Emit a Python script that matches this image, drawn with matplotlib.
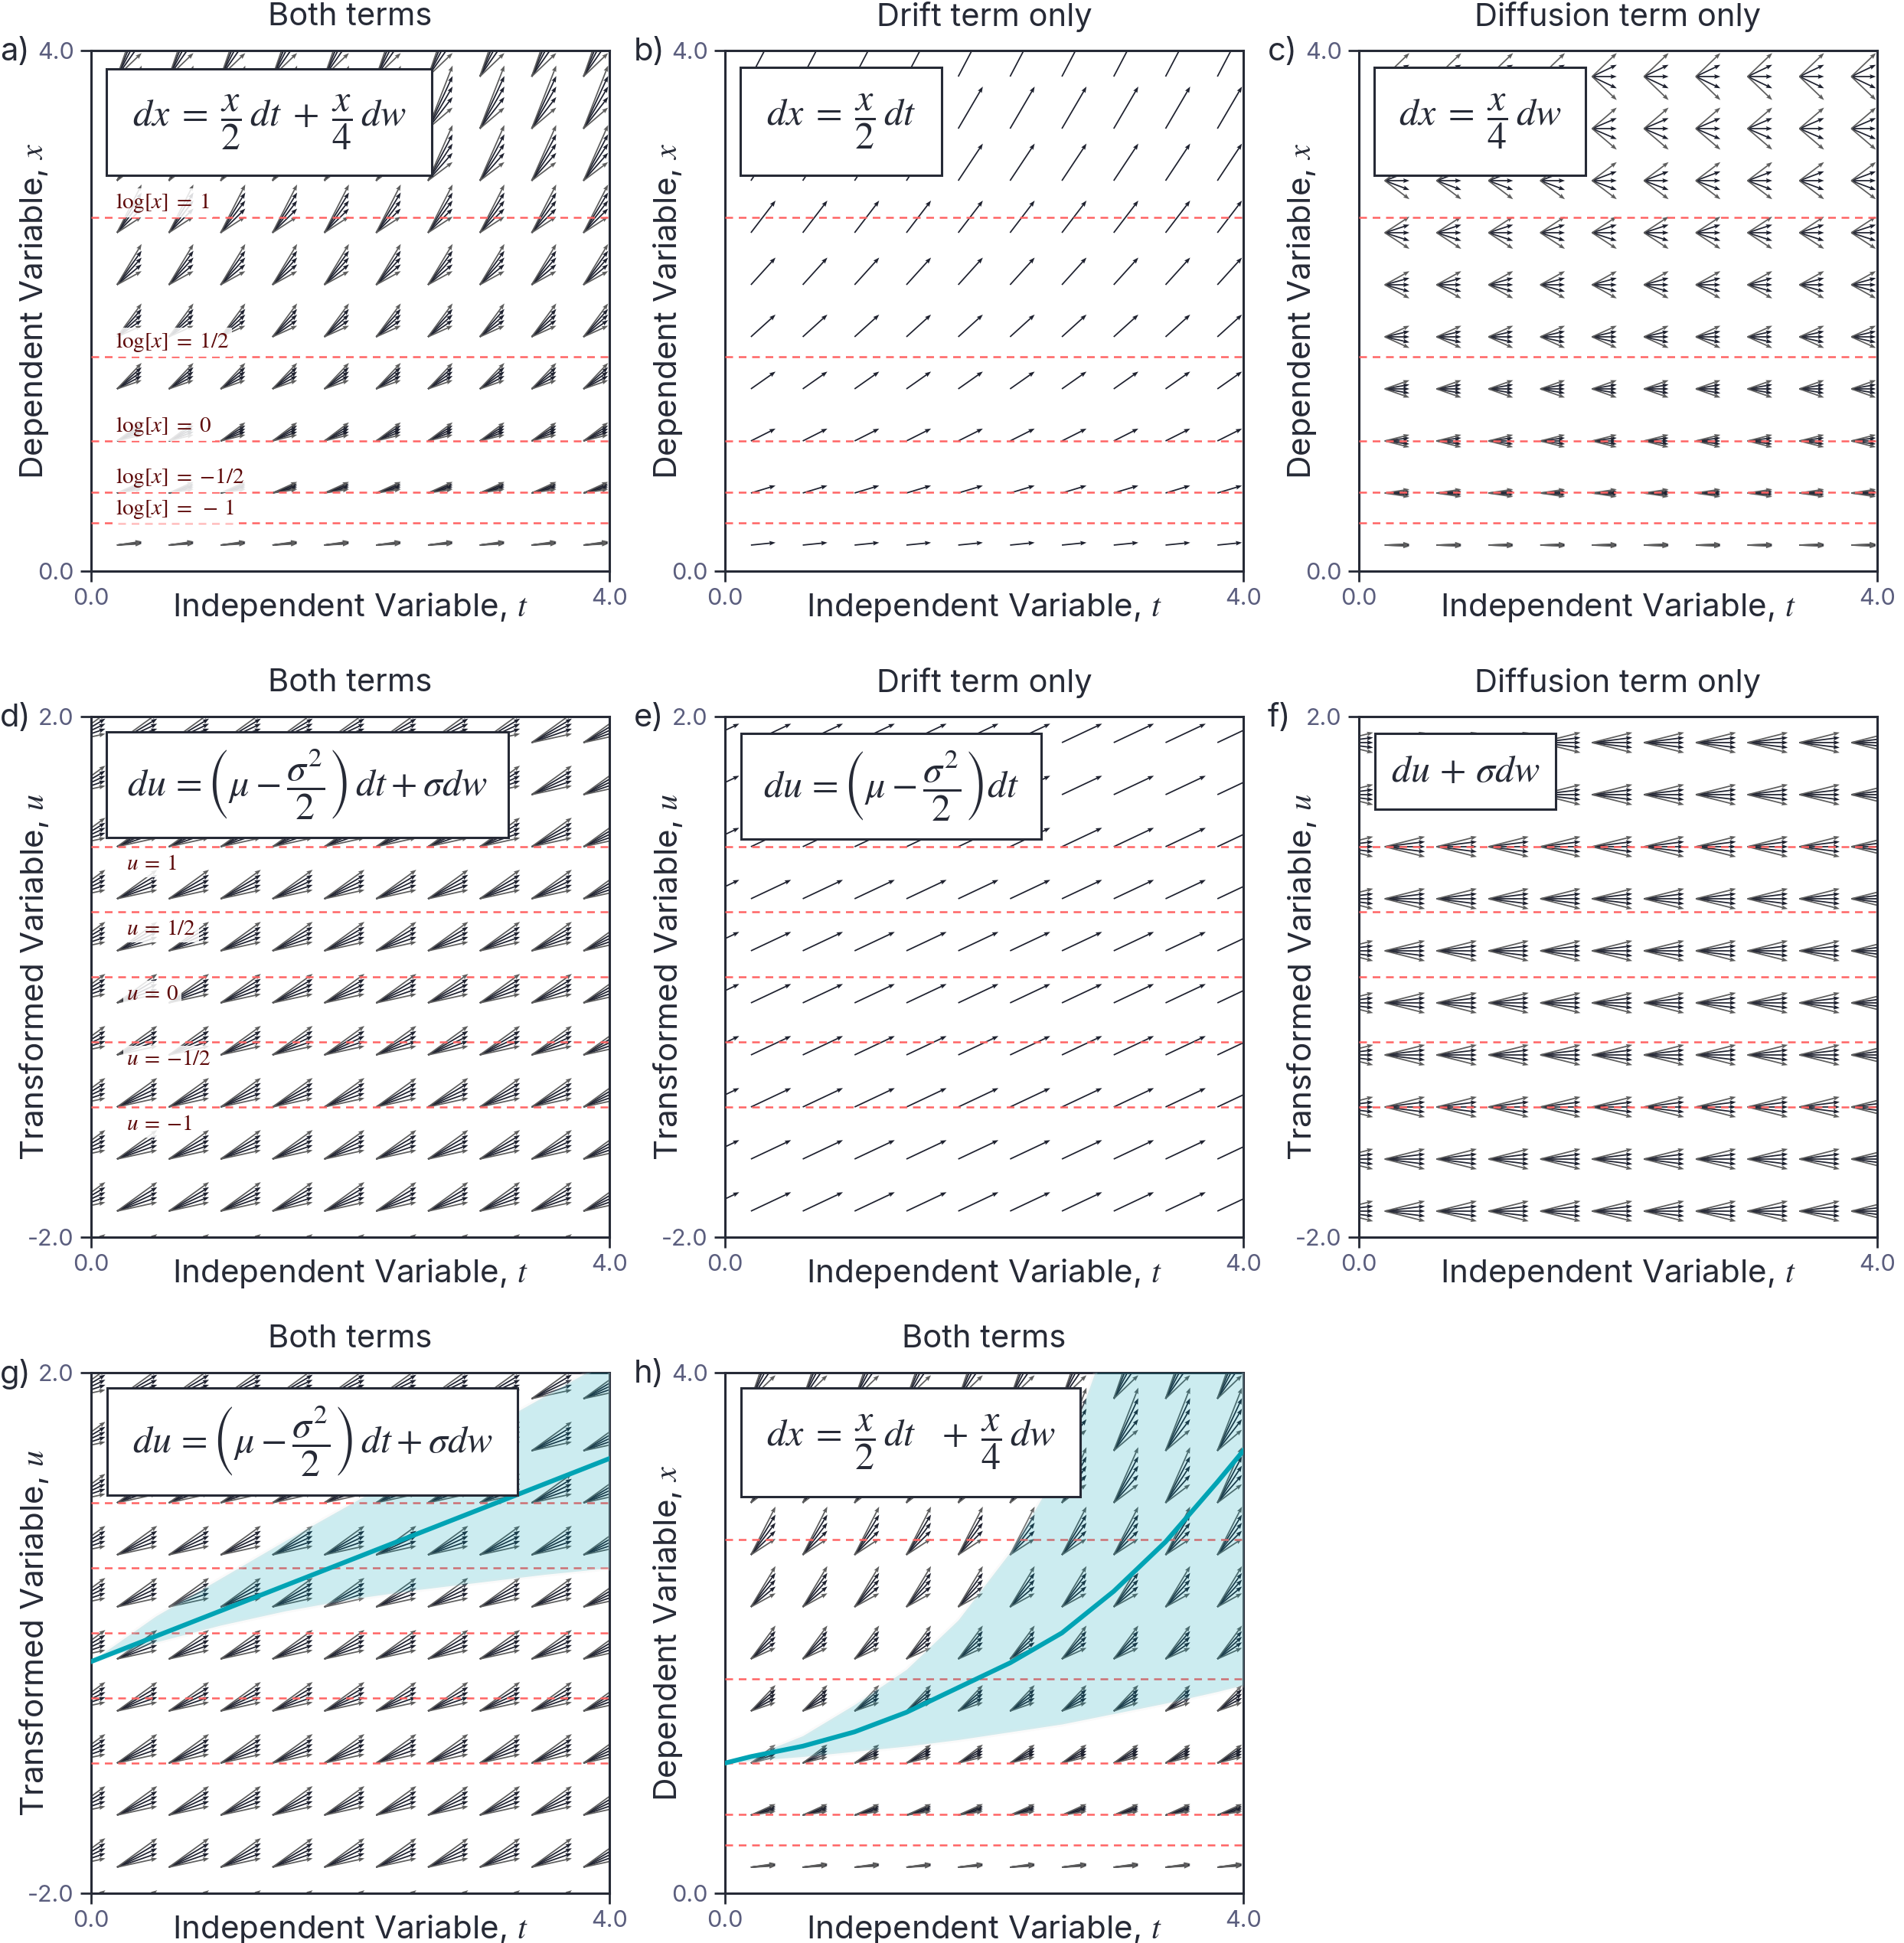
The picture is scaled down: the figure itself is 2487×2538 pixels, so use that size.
import numpy as np
import matplotlib
matplotlib.use('Agg')
from matplotlib import pyplot as plt
from matplotlib.patches import Rectangle

plt.rcParams['font.family'] = ['Inter', 'DejaVu Sans']
plt.rcParams['mathtext.fontset'] = 'stix'

## arrow tails
t_grid = [-0.2, 0.2, 0.6, 1.0, 1.4, 1.8, 2.2, 2.6, 3.0, 3.4, 3.8]
x_grid = [0.2, 0.6, 1.0, 1.4, 1.8, 2.2, 2.6, 3.0, 3.4, 3.8]
u_grid = [-2.2, -1.8, -1.4, -1.0, -0.6, -0.2, 0.2, 0.6, 1.0, 1.4, 1.8]
w_inner = [-0.5, 0.0, 0.5]
w_outer = [-1.0, 1.0]

## dx = mu x dt + sigma x dw
mu = 0.5
sigma = 0.25

x_levels = [np.e, np.exp(0.5), 1.0, np.exp(-0.5), np.exp(-1.0)]
x_level_labels = [r'$\log[x]\;=\;1$', r'$\log[x]\;=\;1/2$', r'$\log[x]\;=\;0$',
                  r'$\log[x]\;=\;{-}1/2$', r'$\log[x]\;=\;-\,1$']
u_levels = [1.0, 0.5, 0.0, -0.5, -1.0]
u_level_labels = [r'$u\:=\:1$', r'$u\:=\:1/2$', r'$u\:=\:0$',
                  r'$u\:=\:{-}1/2$', r'$u\:=\:{-}1$']

## panel g, transformed variable
g_t = [0.0, 2.0, 4.0]
g_mean = [-0.22, 0.56, 1.34]
g_band_t = [0.0, 0.5, 1.0, 1.5, 2.0, 2.5, 3.0, 3.5, 4.0]
g_lower = [-0.22, -0.07, 0.06, 0.17, 0.26, 0.33, 0.39, 0.45, 0.50]
g_upper = [-0.22, 0.13, 0.42, 0.71, 0.99, 1.27, 1.54, 1.82, 2.10]

## panel h, dependent variable
h_t = [0.0, 0.2, 0.6, 1.0, 1.4, 1.8, 2.2, 2.6, 3.0, 3.4, 3.8, 4.0]
h_mean = [1.0, 1.05, 1.13, 1.24, 1.39, 1.58, 1.77, 2.0, 2.32, 2.70, 3.16, 3.40]
h_lower = [1.0, 1.02, 1.05, 1.09, 1.13, 1.18, 1.24, 1.30, 1.38, 1.46, 1.55, 1.60]
h_upper = [1.0, 1.05, 1.21, 1.45, 1.72, 2.10, 2.62, 3.30, 4.40, 5.40, 6.60, 7.30]

titles = ['Both terms', 'Drift term only', 'Diffusion term only',
          'Both terms', 'Drift term only', 'Diffusion term only',
          'Both terms', 'Both terms']
letters = ['a)', 'b)', 'c)', 'd)', 'e)', 'f)', 'g)', 'h)']

eq_both_x = r'$dx\;=\;\dfrac{x}{2}\,dt\;+\;\dfrac{x}{4}\,dw$'
eq_both_x2 = r'$dx\;=\;\dfrac{x}{2}\,dt\;\;\;+\;\dfrac{x}{4}\,dw$'
eq_drift_x = r'$dx\;=\;\dfrac{x}{2}\,dt$'
eq_diff_x = r'$dx\;=\;\dfrac{x}{4}\,dw$'
eq_both_u = r'$du\, = \left(\mu - \dfrac{\sigma^2}{2}\right)\,dt + \sigma dw$'
eq_drift_u = r'$du\, = \left(\mu - \dfrac{\sigma^2}{2}\right)dt$'
eq_diff_u = r'$du\, + \,\sigma dw$'

W, H = 2487, 2538
DPI = 200
fig = plt.figure(figsize=(W / DPI, H / DPI), dpi=DPI)

dark = '#262a36'
arrow_dark = '#1f2230'
arrow_gray = '#5e5e5e'
red = '#ff6464'
teal = '#00a3b4'
tickc = '#5b5e7e'

col_left = [119, 947, 1775]
row_top = [66, 936, 1793]
aw, ah = 677, 680

# (space, drift on, diffusion on, equation, box [t0, t1, y0, y1])
panels = [
    ('x', True, True, eq_both_x, [0.12, 2.63, 3.04, 3.86]),
    ('x', True, False, eq_drift_x, [0.12, 1.67, 3.04, 3.87]),
    ('x', False, True, eq_diff_x, [0.12, 1.75, 3.04, 3.87]),
    ('u', True, True, eq_both_u, [0.12, 3.22, 1.07, 1.88]),
    ('u', True, False, eq_drift_u, [0.125, 2.44, 1.06, 1.87]),
    ('u', False, True, eq_diff_u, [0.125, 1.52, 1.29, 1.87]),
    ('u', True, True, eq_both_u, [0.125, 3.29, 1.06, 1.88]),
    ('x', True, True, eq_both_x2, [0.125, 2.74, 3.05, 3.88]),
]


def draw_arrows(ax, space, drift, diff, ws, color):
    if space == 'x':
        T, Y = np.meshgrid(t_grid, x_grid)
        step = 0.19
    else:
        T, Y = np.meshgrid(t_grid, u_grid)
        step = 0.31
    for w in ws:
        if space == 'x':
            slope = mu * Y * drift + sigma * Y * w * diff
        else:
            slope = (mu - sigma**2 / 2) * drift + sigma * w * diff + 0 * Y
        U = step * np.ones_like(T)
        V = step * slope
        ax.quiver(T, Y, U, V, angles='xy', scale_units='xy', scale=1,
                  color=color, width=0.0026, headwidth=3.4, headlength=4.6,
                  headaxislength=4.1, zorder=2)


for k in range(8):
    r, c = divmod(k, 3)
    left = col_left[c] / W
    bottom = 1 - (row_top[r] + ah) / H
    ax = fig.add_axes([left, bottom, aw / W, ah / H])
    space, drift, diff, eq, box = panels[k]

    ax.set_xlim(0, 4)
    ax.set_xticks([0, 4])
    ax.set_xticklabels(['0.0', '4.0'])
    if space == 'x':
        ax.set_ylim(0, 4)
        ax.set_yticks([0, 4])
        ax.set_yticklabels(['0.0', '4.0'])
        ax.set_ylabel('Dependent Variable, $x$', fontsize=15.2, color=dark)
        levels = x_levels
    else:
        ax.set_ylim(-2, 2)
        ax.set_yticks([-2, 2])
        ax.set_yticklabels(['-2.0', '2.0'])
        ax.set_ylabel('Transformed Variable, $u$', fontsize=15.2, color=dark)
        levels = u_levels
    ax.set_xlabel('Independent Variable, $t$', fontsize=15.2, color=dark)
    ax.xaxis.set_label_coords(0.5, -0.07)
    ax.xaxis.label.set_va('center')
    ax.yaxis.set_label_coords(-0.11, 0.5)
    ax.yaxis.label.set_va('center')

    ax.tick_params(length=5, width=1, color=dark, labelcolor=tickc,
                   labelsize=11, pad=3)
    for sp in ax.spines.values():
        sp.set_linewidth(1.1)
        sp.set_color(dark)

    ax.text(0.5, 1 + 44 / ah, titles[k], transform=ax.transAxes,
            ha='center', va='center', fontsize=15, color=dark)
    ax.text(-119 / aw, 1 - 2 / ah, letters[k], transform=ax.transAxes,
            ha='left', va='center', fontsize=15, color=dark)

    # arrows
    if diff:
        draw_arrows(ax, space, drift, diff, w_inner, arrow_dark)
        draw_arrows(ax, space, drift, diff, w_outer, arrow_gray)
    else:
        draw_arrows(ax, space, drift, diff, [0.0], arrow_dark)

    for lv in levels:
        ax.axhline(lv, color=red, lw=0.9, ls=(0, (4, 3)), zorder=3)

    if k == 0:
        for lv, lab in zip(x_levels, x_level_labels):
            ax.text(0.19, lv + 0.11, lab, color='#5e0b0b', fontsize=10.5,
                    ha='left', va='center', zorder=6,
                    bbox=dict(facecolor='white', alpha=0.85, edgecolor='none', pad=1.5))
    if k == 3:
        for lv, lab in zip(u_levels, u_level_labels):
            ax.text(0.27, lv - 0.13, lab, color='#5e0b0b', fontsize=10.5,
                    ha='left', va='center', zorder=6,
                    bbox=dict(facecolor='white', alpha=0.85, edgecolor='none', pad=1.5))

    if k == 6:
        ax.fill_between(g_band_t, g_lower, g_upper, facecolor=teal, alpha=0.2,
                        edgecolor='#e8e8e8', linewidth=2, zorder=4)
        ax.plot(g_t, g_mean, color=teal, lw=2.2, zorder=5)
    if k == 7:
        ax.fill_between(h_t, h_lower, h_upper, facecolor=teal, alpha=0.2,
                        edgecolor='#e8e8e8', linewidth=2, zorder=4)
        ax.plot(h_t, h_mean, color=teal, lw=2.2, zorder=5)

    t0, t1, y0, y1 = box
    ax.add_patch(Rectangle((t0, y0), t1 - t0, y1 - y0, facecolor='white',
                           edgecolor=dark, lw=1.1, zorder=10))
    ax.text((t0 + t1) / 2, (y0 + y1) / 2, eq, ha='center', va='center',
            fontsize=18, color=dark, zorder=11)

fig.savefig('out.png', dpi=DPI)
